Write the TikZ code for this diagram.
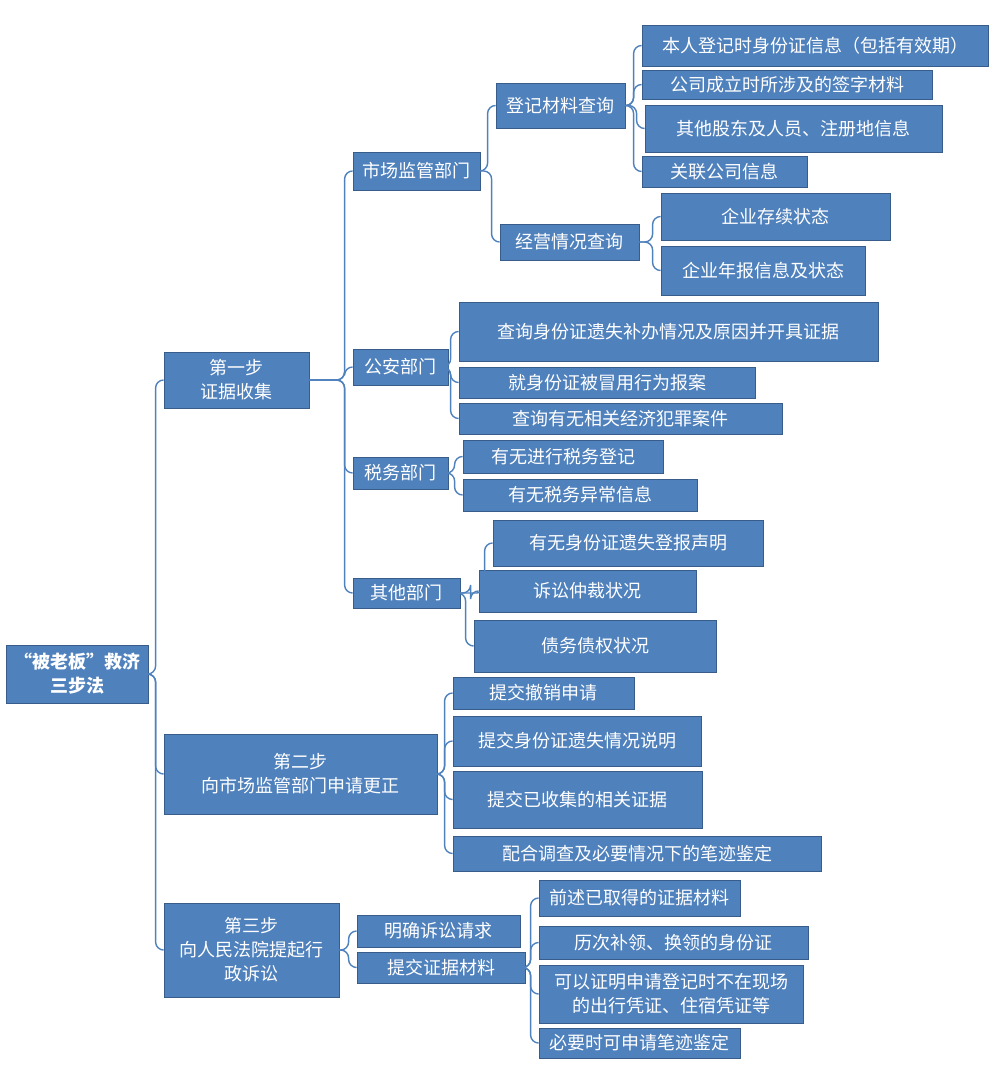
\documentclass[tikz,border=0pt]{standalone}
\usepackage{fontspec}
\newfontfamily\cjk{Noto Sans CJK SC}
\usetikzlibrary{positioning, calc}
\definecolor{boxblue}{HTML}{4F81BD}
\definecolor{boxline}{HTML}{385D8A}
\tikzset{
  box/.style = {rectangle, draw=boxline, fill=boxblue, text=white, align=center,
    inner sep=1pt, font=\cjk\fontsize{9}{12}\selectfont},
  link/.style = {draw=boxblue, line width=0.7pt, rounded corners=4pt}
}
% box from pixel corners
\newcommand\boxnode[6]{%
  \node[box, minimum width={(#4-#2)*0.5pt}, minimum height={(#5-#3)*0.5pt}]
    (#1) at ({(#2+#4)/2},{(#3+#5)/2}) {#6};}
\newcommand\conn[2]{\draw[link] (#1.east) -| ([xshift=-4pt]#2.west) -- (#2.west);}

\begin{document}
\begin{tikzpicture}[x=0.5pt, y=-0.5pt]
    \useasboundingbox (0,0) rectangle (1000,1072);
    % Root and steps
    \boxnode{root}{6}{645}{148}{703}{\bfseries “被老板”救济\\\bfseries 三步法}
    \boxnode{s1}{164}{352}{309}{408}{第一步\\证据收集}
    \boxnode{s2}{164}{734}{437}{814}{第二步\\向市场监管部门申请更正}
    \boxnode{s3}{164}{903}{339}{997}{第三步\\向人民法院提起行\\政诉讼}
    % Step 1 departments
    \boxnode{scjg}{353}{152}{480}{190}{市场监管部门}
    \boxnode{djcx}{496}{83}{625}{128}{登记材料查询}
    \boxnode{jycx}{500}{224}{639}{260}{经营情况查询}
    \boxnode{d1}{642}{25}{988}{66}{本人登记时身份证信息（包括有效期）}
    \boxnode{d2}{642}{70}{932}{99}{公司成立时所涉及的签字材料}
    \boxnode{d3}{645}{105}{942}{152}{其他股东及人员、注册地信息}
    \boxnode{d4}{642}{156}{807}{187}{关联公司信息}
    \boxnode{j1}{661}{193}{890}{240}{企业存续状态}
    \boxnode{j2}{661}{246}{865}{295}{企业年报信息及状态}
    \boxnode{gongan}{353}{349}{448}{385}{公安部门}
    \boxnode{g1}{459}{302}{878}{361}{查询身份证遗失补办情况及原因并开具证据}
    \boxnode{g2}{459}{367}{755}{398}{就身份证被冒用行为报案}
    \boxnode{g3}{459}{403}{782}{434}{查询有无相关经济犯罪案件}
    \boxnode{shuiwu}{353}{457}{448}{489}{税务部门}
    \boxnode{w1}{463}{440}{663}{473}{有无进行税务登记}
    \boxnode{w2}{463}{479}{697}{511}{有无税务异常信息}
    \boxnode{qita}{353}{578}{460}{608}{其他部门}
    \boxnode{q1}{493}{520}{763}{566}{有无身份证遗失登报声明}
    \boxnode{q2}{479}{570}{696}{612}{诉讼仲裁状况}
    \boxnode{q3}{474}{620}{716}{672}{债务债权状况}
    % Step 2
    \boxnode{t1}{453}{677}{634}{709}{提交撤销申请}
    \boxnode{t2}{453}{716}{701}{766}{提交身份证遗失情况说明}
    \boxnode{t3}{453}{771}{702}{828}{提交已收集的相关证据}
    \boxnode{t4}{453}{836}{821}{871}{配合调查及必要情况下的笔迹鉴定}
    % Step 3
    \boxnode{mq}{357}{915}{520}{947}{明确诉讼请求}
    \boxnode{tj}{357}{952}{525}{983}{提交证据材料}
    \boxnode{e1}{539}{880}{740}{916}{前述已取得的证据材料}
    \boxnode{e2}{539}{926}{808}{959}{历次补领、换领的身份证}
    \boxnode{e3}{539}{965}{803}{1023}{可以证明申请登记时不在现场\\的出行凭证、住宿凭证等}
    \boxnode{e4}{539}{1028}{740}{1058}{必要时可申请笔迹鉴定}
    % Connectors
    \foreach \c in {s1,s2,s3} {\conn{root}{\c}}
    \foreach \c in {scjg,gongan,shuiwu,qita} {\conn{s1}{\c}}
    \foreach \c in {djcx,jycx} {\conn{scjg}{\c}}
    \foreach \c in {d1,d2,d3,d4} {\conn{djcx}{\c}}
    \foreach \c in {j1,j2} {\conn{jycx}{\c}}
    \foreach \c in {g1,g2,g3} {\conn{gongan}{\c}}
    \foreach \c in {w1,w2} {\conn{shuiwu}{\c}}
    \foreach \c in {q1,q2,q3} {\conn{qita}{\c}}
    \foreach \c in {t1,t2,t3,t4} {\conn{s2}{\c}}
    \foreach \c in {mq,tj} {\conn{s3}{\c}}
    \foreach \c in {e1,e2,e3,e4} {\conn{tj}{\c}}
\end{tikzpicture}
\end{document}
